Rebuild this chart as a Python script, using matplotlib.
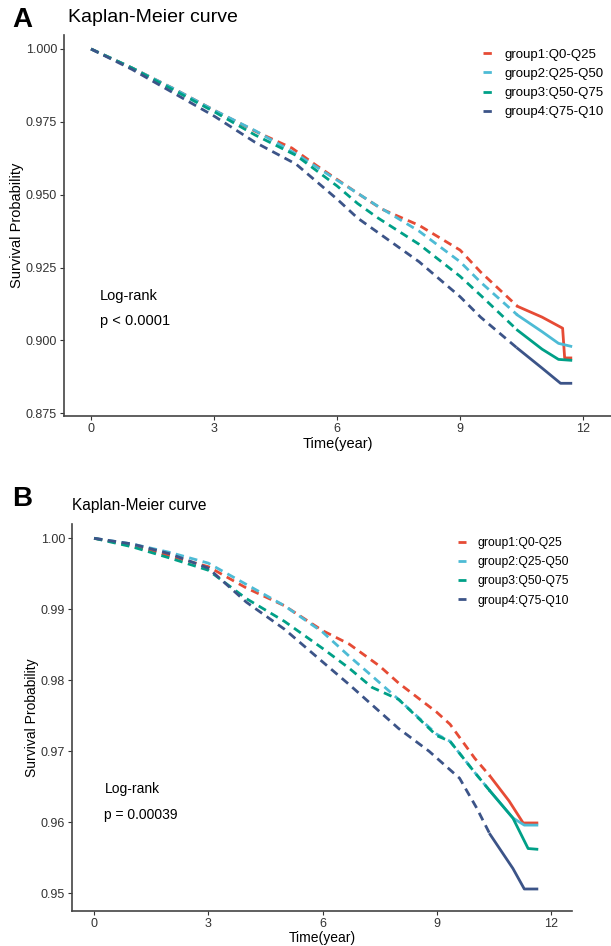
import matplotlib.pyplot as plt
import numpy as np

plt.rcParams['font.family'] = ['Liberation Sans', 'DejaVu Sans']

groups = ['group1:Q0-Q25', 'group2:Q25-Q50', 'group3:Q50-Q75', 'group4:Q75-Q10']
colors = ['#E64B35', '#4DBBD5', '#00A087', '#3C5488']

# panel A: (time, survival)
a_t1 = [0, 1, 2, 3, 4, 4.9, 5.5, 6.5, 7.1, 8, 9, 9.5, 10.4, 11, 11.5, 11.55, 11.7]
a_s1 = [1.0, 0.9935, 0.9865, 0.979, 0.9718, 0.966, 0.960, 0.9505, 0.945, 0.9395, 0.931, 0.9235, 0.9117, 0.908, 0.9042, 0.894, 0.894]
a_t2 = [0, 1, 2, 3, 4, 5, 6, 6.5, 7, 8, 9, 9.5, 10.4, 11, 11.4, 11.7]
a_s2 = [1.0, 0.9935, 0.9865, 0.979, 0.972, 0.964, 0.955, 0.9505, 0.946, 0.9375, 0.927, 0.920, 0.9087, 0.903, 0.899, 0.898]
a_t3 = [0, 1, 2, 3, 4, 5, 6, 6.5, 7, 8, 9, 9.5, 10.4, 11, 11.4, 11.7]
a_s3 = [1.0, 0.9935, 0.986, 0.9785, 0.9705, 0.9635, 0.953, 0.947, 0.942, 0.933, 0.922, 0.9155, 0.9035, 0.897, 0.8935, 0.8932]
a_t4 = [0, 1, 2, 3, 4, 5, 6, 6.5, 7, 8, 9, 9.5, 10.4, 11, 11.45, 11.7]
a_s4 = [1.0, 0.993, 0.985, 0.977, 0.968, 0.9605, 0.9485, 0.942, 0.937, 0.927, 0.915, 0.908, 0.8973, 0.8905, 0.8853, 0.8853]

# panel B
b_t1 = [0, 1, 2, 3, 4, 5, 6, 6.7, 7.5, 8, 9, 9.35, 10, 10.4, 10.9, 11.27, 11.63]
b_s1 = [1.0, 0.999, 0.9975, 0.996, 0.993, 0.9905, 0.987, 0.9851, 0.982, 0.9796, 0.9755, 0.9738, 0.969, 0.9665, 0.963, 0.9599, 0.9599]
b_t2 = [0, 1, 2, 3, 4, 5, 6, 6.7, 7.3, 8, 9, 9.35, 10, 10.4, 11, 11.3, 11.63]
b_s2 = [1.0, 0.9992, 0.998, 0.9965, 0.9935, 0.9905, 0.9868, 0.9834, 0.9806, 0.9773, 0.9724, 0.9714, 0.967, 0.9644, 0.9606, 0.9596, 0.9596]
b_t3 = [0, 1, 2, 3, 4, 5, 6, 6.7, 7.3, 8, 9, 9.35, 10, 10.4, 11, 11.4, 11.63]
b_s3 = [1.0, 0.9988, 0.9972, 0.9955, 0.9915, 0.9883, 0.9845, 0.9817, 0.979, 0.9773, 0.9722, 0.9714, 0.967, 0.9644, 0.9606, 0.9563, 0.9562]
b_t4 = [0, 1, 2, 3, 4, 5, 6, 6.7, 8, 8.8, 9.6, 10.05, 10.4, 11, 11.3, 11.63]
b_s4 = [1.0, 0.9992, 0.9978, 0.9958, 0.991, 0.9872, 0.9826, 0.9794, 0.9732, 0.970, 0.9662, 0.962, 0.9583, 0.9535, 0.9506, 0.9506]

a_yticks = [0.875, 0.900, 0.925, 0.950, 0.975, 1.000]
b_yticks = [0.95, 0.96, 0.97, 0.98, 0.99, 1.00]
xticks = [0, 3, 6, 9, 12]


def km_panel(ax, series, split, yticks, yfmt, ylim, xlim, ptext, fs, ypad):
    for (t, s), c, lab in zip(series, colors, groups):
        t = np.array(t)
        s = np.array(s)
        k = np.searchsorted(t, split) + 1
        ax.plot(t[:k], s[:k], color=c, lw=2, ls=(0, (3, 2)), label=lab)
        ax.plot(t[k - 1:], s[k - 1:], color=c, lw=2)
    ax.set_xlim(xlim)
    ax.set_ylim(ylim)
    ax.set_xticks(xticks)
    ax.set_yticks(yticks)
    ax.set_yticklabels([yfmt % v for v in yticks])
    ax.tick_params(labelsize=9, length=3, pad=2, color='#333333', labelcolor='#333333')
    for sp in ['top', 'right']:
        ax.spines[sp].set_visible(False)
    for sp in ['left', 'bottom']:
        ax.spines[sp].set_linewidth(1.2)
        ax.spines[sp].set_color('#444444')
    ax.set_xlabel('Time(year)', fontsize=fs, labelpad=1)
    ax.set_ylabel('Survival Probability', fontsize=fs, labelpad=ypad)
    ax.text(0.065, 0.304, 'Log-rank', transform=ax.transAxes, fontsize=fs)
    ax.text(0.065, 0.239, ptext, transform=ax.transAxes, fontsize=fs)


fig = plt.figure(figsize=(6.11, 9.46), dpi=100)

axA = fig.add_axes([0.1047, 0.560, 0.8953, 0.403])
km_panel(axA, [(a_t1, a_s1), (a_t2, a_s2), (a_t3, a_s3), (a_t4, a_s4)], 10.4,
         a_yticks, '%.3f', (0.874, 1.0048), (-0.66, 12.68), 'p < 0.0001', 10.5, 1)
axA.legend(loc='upper left', bbox_to_anchor=(0.745, 0.995), frameon=False, fontsize=9.5,
           handlelength=0.7, handletextpad=0.9, labelspacing=0.52)

axB = fig.add_axes([0.1178, 0.037, 0.8182, 0.409])
km_panel(axB, [(b_t1, b_s1), (b_t2, b_s2), (b_t3, b_s3), (b_t4, b_s4)], 10.4,
         b_yticks, '%.2f', (0.9475, 1.002), (-0.58, 12.55), 'p = 0.00039', 10, 1)
axB.legend(loc='upper left', bbox_to_anchor=(0.75, 0.995), frameon=False, fontsize=8.7,
           handlelength=0.7, handletextpad=0.9, labelspacing=0.6)

fig.text(0.111, 0.981, 'Kaplan-Meier curve', fontsize=14, va='center')
fig.text(0.02, 0.979, 'A', fontsize=20, fontweight='bold', va='center')
fig.text(0.118, 0.466, 'Kaplan-Meier curve', fontsize=11.2, va='center')
fig.text(0.02, 0.472, 'B', fontsize=20, fontweight='bold', va='center')

fig.savefig('out.png', dpi=100)
